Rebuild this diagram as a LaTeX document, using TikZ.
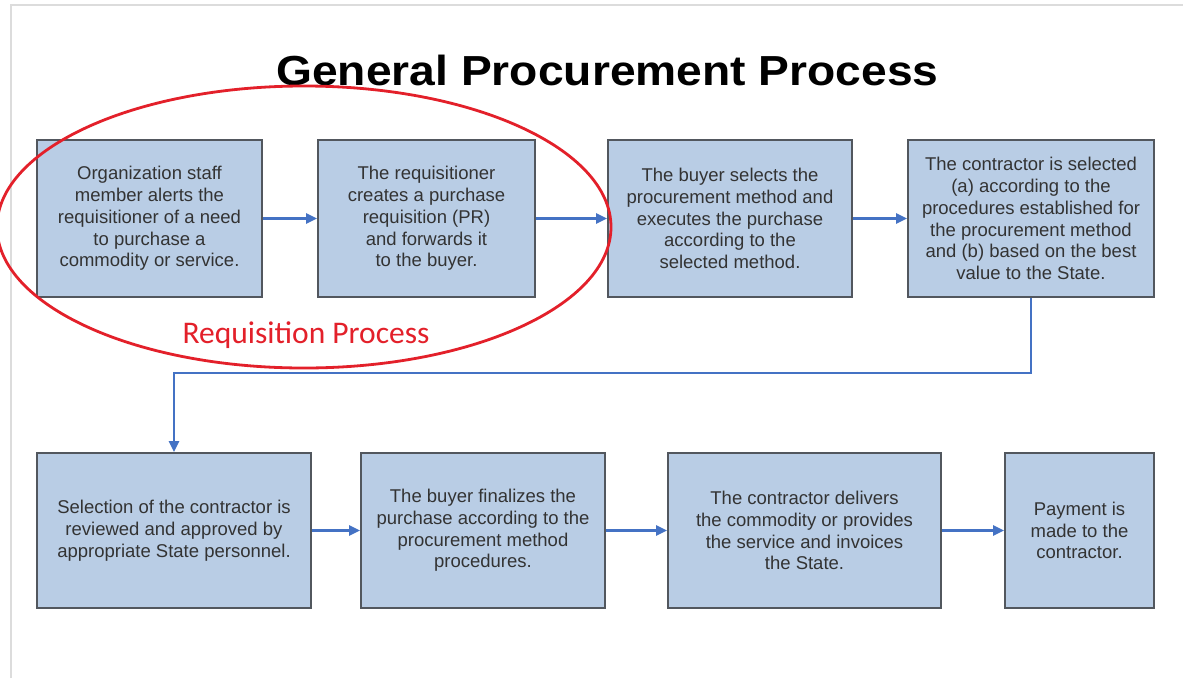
\documentclass[tikz,border=0pt]{standalone}
\usepackage{fontspec}
\setmainfont{Liberation Sans}
\newfontfamily\calib{Carlito}
\usetikzlibrary{arrows.meta,shapes.geometric}
\definecolor{boxfill}{HTML}{B9CDE5}
\definecolor{boxline}{HTML}{52575E}
\definecolor{boxtext}{HTML}{333333}
\definecolor{arrowblue}{HTML}{4472C4}
\definecolor{ringred}{HTML}{E3202A}
\definecolor{framegrey}{HTML}{DCDCDC}
\tikzset{
  stepbox/.style={draw=boxline, fill=boxfill, line width=1.8pt, rectangle,
    align=center, text=boxtext, inner sep=2pt,
    font=\fontsize{18.5}{21.8}\selectfont},
  flow/.style={draw=arrowblue, line width=2.6pt,
    -{Triangle[length=11pt,width=10pt]}},
}
\begin{document}
\begin{tikzpicture}[x=1pt,y=-1pt]
\useasboundingbox (0,0) rectangle (1183,678);
\fill[white] (0,0) rectangle (1183,678);
\draw[framegrey, line width=2pt] (11,678) -- (11,5) -- (1183,5);

\node[anchor=base] (title) at (607.5,85)
  {\scalebox{1.1}[1]{\fontsize{42}{50}\selectfont\bfseries General Procurement Process}};

% top row
\node[stepbox, minimum width=225pt, minimum height=157pt] (b1) at (149.5,218.5)
  {Organization staff\\member alerts the\\requisitioner of a need\\to purchase a\\commodity or service.};
\node[stepbox, minimum width=217pt, minimum height=157pt] (b2) at (426.5,218.5)
  {The requisitioner\\creates a purchase\\requisition (PR)\\and forwards it\\to the buyer.};
\node[stepbox, minimum width=244pt, minimum height=157pt] (b3) at (730,218.5)
  {The buyer selects the\\procurement method and\\executes the purchase\\according to the\\selected method.};
\node[stepbox, minimum width=246pt, minimum height=157pt] (b4) at (1031,218.5)
  {The contractor is selected\\(a) according to the\\procedures established for\\the procurement method\\and (b) based on the best\\value to the State.};

% bottom row
\node[stepbox, minimum width=274pt, minimum height=155pt] (b5) at (174,530.5)
  {Selection of the contractor is\\reviewed and approved by\\appropriate State personnel.};
\node[stepbox, minimum width=244pt, minimum height=155pt] (b6) at (483,530.5)
  {The buyer finalizes the\\purchase according to the\\procurement method\\procedures.};
\node[stepbox, minimum width=273pt, minimum height=155pt] (b7) at (804.5,530.5)
  {The contractor delivers\\the commodity or provides\\the service and invoices\\the State.};
\node[stepbox, minimum width=149pt, minimum height=155pt] (b8) at (1079.5,530.5)
  {Payment is\\made to the\\contractor.};

% connectors
\draw[flow] (b1) -- (b2);
\draw[flow] (b2) -- (b3);
\draw[flow] (b3) -- (b4);
\draw[flow] (b4.south) -- ++(0,75) -| (b5.north);
\draw[flow] (b5) -- (b6);
\draw[flow] (b6) -- (b7);
\draw[flow] (b7) -- (b8);

% requisition ring
\node[ellipse, draw=ringred, line width=2.8pt, minimum width=614pt,
  minimum height=282pt, inner sep=0pt] (ring) at (304,227) {};
\node[anchor=base, text=ringred, font=\calib\fontsize{31.5}{36}\selectfont]
  (ringlabel) at (306,343) {Requisition Process};
\end{tikzpicture}
\end{document}
